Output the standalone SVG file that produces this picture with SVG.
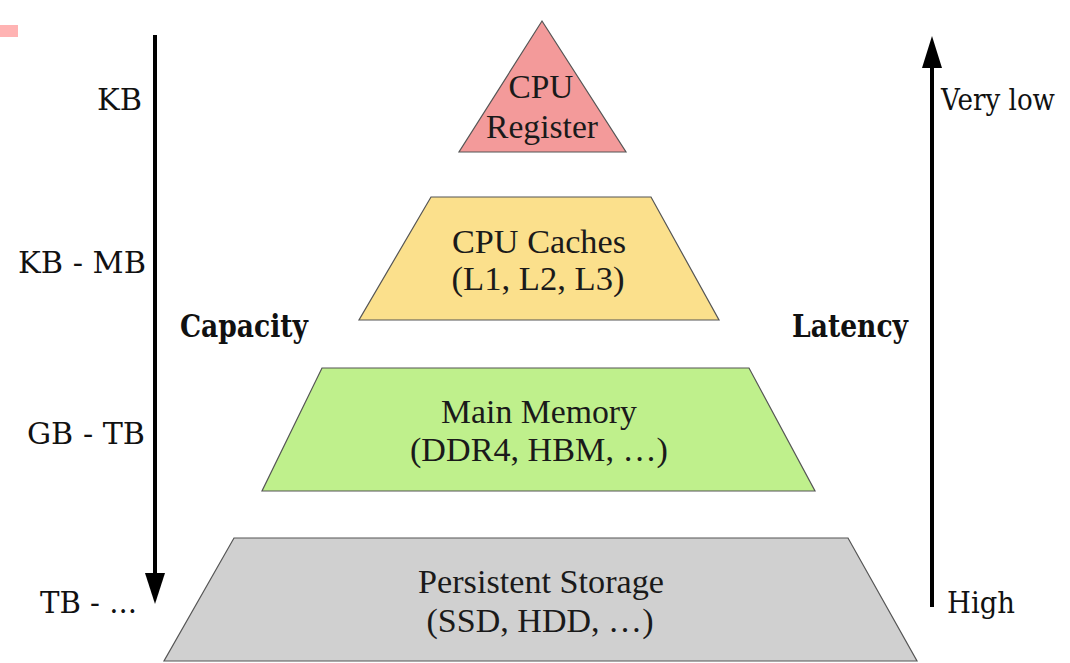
<svg xmlns="http://www.w3.org/2000/svg" width="1070" height="663" viewBox="0 0 1070 663">
<style>
.lvl{stroke:#555;stroke-width:1.2}
.nt{font-family:"Liberation Serif","Times New Roman",serif;font-size:34px;fill:#1a1a1a;text-anchor:middle}
.side{font-family:"DejaVu Serif","Liberation Serif",serif;font-size:30px;fill:#111}
.bold{font-family:"DejaVu Serif","Liberation Serif",serif;font-size:31px;font-weight:bold;fill:#111}
.ax{stroke:#000;stroke-width:4;fill:none}
</style>
<rect width="1070" height="663" fill="#fff"/>
<rect x="0" y="25" width="18" height="12" fill="#ffb3b3"/>
<g id="connectors">
<line class="ax" x1="155" y1="35" x2="155" y2="576"/>
<polygon points="145,573 165,573 155,604" fill="#000"/>
<line class="ax" x1="932" y1="607" x2="932" y2="64"/>
<polygon points="922,68 942,68 932,36" fill="#000"/>
</g>
<g id="register">
<polygon class="lvl" points="542,21 626,152 459,152" fill="#f39a9a"/>
<text class="nt" x="541" y="98" textLength="65" lengthAdjust="spacingAndGlyphs">CPU</text>
<text class="nt" x="542" y="138" textLength="112" lengthAdjust="spacingAndGlyphs">Register</text>
</g>
<g id="caches">
<polygon class="lvl" points="431,197 651,197 719,320 359,320" fill="#fbe08c"/>
<text class="nt" x="539" y="253" textLength="174" lengthAdjust="spacingAndGlyphs">CPU Caches</text>
<text class="nt" x="538" y="290" textLength="173" lengthAdjust="spacingAndGlyphs">(L1, L2, L3)</text>
</g>
<g id="memory">
<polygon class="lvl" points="322,368 749,368 815,491 262,491" fill="#bff08c"/>
<text class="nt" x="539" y="423" textLength="196" lengthAdjust="spacingAndGlyphs">Main Memory</text>
<text class="nt" x="539" y="461" textLength="258" lengthAdjust="spacingAndGlyphs">(DDR4, HBM, …)</text>
</g>
<g id="storage">
<polygon class="lvl" points="234,538 848,538 917,661 164,661" fill="#d0d0d0"/>
<text class="nt" x="541" y="593" textLength="246" lengthAdjust="spacingAndGlyphs">Persistent Storage</text>
<text class="nt" x="540" y="632" textLength="227" lengthAdjust="spacingAndGlyphs">(SSD, HDD, …)</text>
</g>
<g id="capacity-labels">
<text class="side" x="97" y="110" textLength="45" lengthAdjust="spacingAndGlyphs">KB</text>
<text class="side" x="18" y="273" textLength="128" lengthAdjust="spacingAndGlyphs">KB - MB</text>
<text class="side" x="27" y="444" textLength="118" lengthAdjust="spacingAndGlyphs">GB - TB</text>
<text class="side" x="40" y="613" textLength="97" lengthAdjust="spacingAndGlyphs">TB - ...</text>
<text class="bold" x="180" y="337" textLength="128" lengthAdjust="spacingAndGlyphs">Capacity</text>
</g>
<g id="latency-labels">
<text class="side" x="941" y="110" font-size="29" textLength="114" lengthAdjust="spacingAndGlyphs">Very low</text>
<text class="side" x="947" y="613" textLength="68" lengthAdjust="spacingAndGlyphs">High</text>
<text class="bold" x="792" y="337" textLength="116" lengthAdjust="spacingAndGlyphs">Latency</text>
</g>
</svg>
